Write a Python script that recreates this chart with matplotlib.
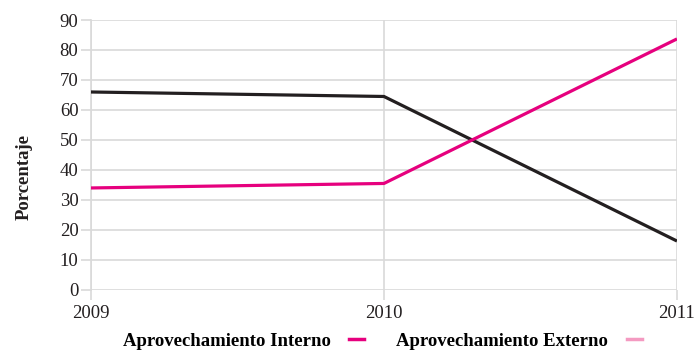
import matplotlib
matplotlib.use("Agg")
import matplotlib.pyplot as plt
from matplotlib.lines import Line2D

years = [2009, 2010, 2011]
interno = [66.0, 64.5, 16.3]
externo = [34.0, 35.5, 83.7]
legend_labels = ["Aprovechamiento Interno", "Aprovechamiento Externo"]
y_ticks = list(range(0, 100, 10))

BLACK = "#231f20"
MAGENTA = "#e6007e"
PINK = "#f49ac1"
GRID = "#d9d9d9"
TEXT = "#231f20"
FS = 13.5

plt.rcParams["font.family"] = ["Liberation Serif", "DejaVu Serif"]

fig = plt.figure(figsize=(6.94, 3.51), dpi=100)
ax = fig.add_axes([0.131, 0.174, 0.8445, 0.769])

ax.plot(years, interno, color=BLACK, lw=2.3, solid_capstyle="butt", zorder=3)
ax.plot(years, externo, color=MAGENTA, lw=2.3, solid_capstyle="butt", zorder=3)

ax.set_xlim(2009, 2011)
ax.set_ylim(0, 90)
ax.set_xticks(years)
ax.set_xticklabels([str(y) for y in years])
ax.set_yticks(y_ticks)

ax.grid(True, color=GRID, lw=1.2)
ax.set_axisbelow(True)
for side in ["top", "right", "bottom"]:
    ax.spines[side].set_visible(False)
ax.spines["left"].set_color(GRID)
ax.spines["left"].set_linewidth(1.2)

ax.tick_params(axis="both", colors=GRID, width=1.2, length=7, labelcolor=TEXT,
               labelsize=FS)
ax.tick_params(axis="x", pad=4)
ax.tick_params(axis="y", pad=2)

ax.set_ylabel("Porcentaje", fontsize=FS, fontweight="bold", color=TEXT)
ax.yaxis.set_label_coords(-0.099, 0.418)

handles = [Line2D([], [], color=MAGENTA, lw=2.5),
           Line2D([], [], color=PINK, lw=2.5)]
fig.legend(handles, legend_labels, loc="lower center", bbox_to_anchor=(0.551, -0.045),
           ncol=2, frameon=False, markerfirst=False, handlelength=0.8,
           handletextpad=1.0, columnspacing=1.7,
           prop={"weight": "bold", "size": FS})

fig.savefig("out.png", dpi=100)
